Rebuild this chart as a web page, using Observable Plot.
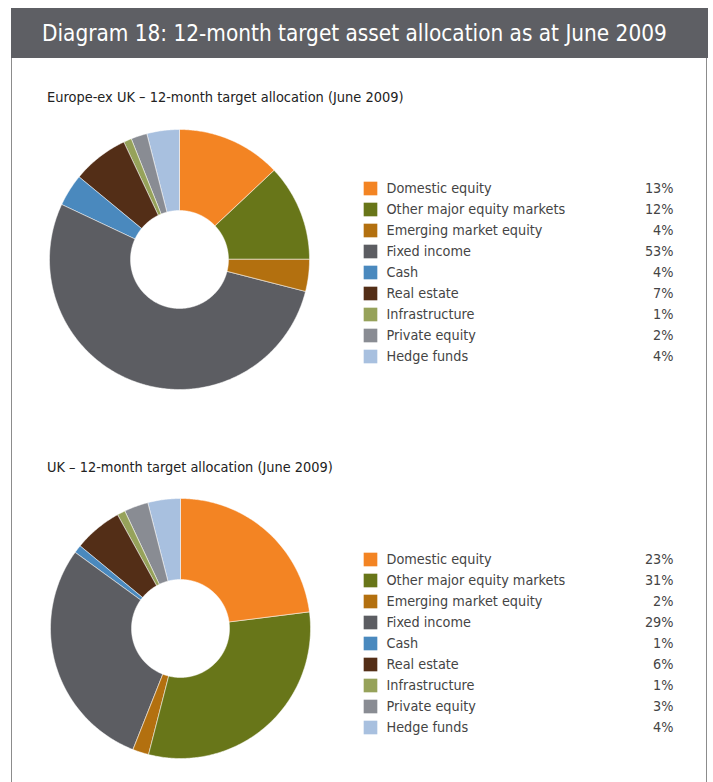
<!DOCTYPE html>
<html>
<head>
<meta charset="utf-8">
<script src="https://cdn.jsdelivr.net/npm/d3@7"></script>
<script src="https://cdn.jsdelivr.net/npm/@observablehq/plot@0.6"></script>
<style>
  html, body { margin: 0; padding: 0; background: #fff; }
  body { width: 713px; height: 782px; position: relative; overflow: hidden;
         font-family: "Liberation Sans Narrow", "DejaVu Sans Condensed", "Open Sans", sans-serif; }
  .frame { position: absolute; left: 11px; top: 8px; width: 694px; height: 820px;
           border-left: 1px solid #8c8c8c; border-right: 1px solid #8c8c8c; }
  .header { position: absolute; left: 11px; top: 8px; width: 697px; height: 50px; background: #5e5f64; }
  .title { position: absolute; left: 42px; top: 33px; transform: translateY(-50%);
           color: #fff; font-size: 25px; white-space: nowrap; line-height: 1; }
  .sub { position: absolute; left: 47px; color: #222; font-size: 16px; white-space: nowrap;
         transform: translateY(-50%); line-height: 1; }
  .pie, .legend { position: absolute; }
  .legend text { font-family: "Liberation Sans Narrow", "DejaVu Sans Condensed", "Open Sans", sans-serif; }
</style>
</head>
<body>
<div class="frame"></div>
<div class="header"></div>
<div class="title" id="title">Diagram 18: 12-month target asset allocation as at June 2009</div>
<div class="sub" id="sub1" style="top:97px">Europe-ex UK – 12-month target allocation (June 2009)</div>
<div class="sub" id="sub2" style="top:467px">UK – 12-month target allocation (June 2009)</div>
<div class="pie" id="pie1" style="left:48px; top:128px"></div>
<div class="legend" id="leg1" style="left:350px; top:170px"></div>
<div class="pie" id="pie2" style="left:49px; top:497px"></div>
<div class="legend" id="leg2" style="left:350px; top:541px"></div>
<script>
const categories = ["Domestic equity", "Other major equity markets", "Emerging market equity", "Fixed income", "Cash", "Real estate", "Infrastructure", "Private equity", "Hedge funds"];
const colors = ["#F38423", "#687619", "#B3700F", "#5C5D62", "#4A89BE", "#532E17", "#96A25A", "#898C93", "#A8C0DF"];
const europeValues = [13, 12, 4, 53, 4, 7, 1, 2, 4];
const ukValues = [23, 31, 2, 29, 1, 6, 1, 3, 4];

const innerRatio = 49 / 130;

function donutPoints(values) {
  const arcs = d3.pie().sort(null).value(d => d)(values);
  const pts = [];
  arcs.forEach((a, i) => {
    const n = Math.max(4, Math.ceil((a.endAngle - a.startAngle) / 0.01));
    for (let k = 0; k <= n; k++) {
      const t = a.startAngle + (a.endAngle - a.startAngle) * k / n;
      pts.push({cat: categories[i], x: Math.sin(t), y: Math.cos(t)});
    }
    for (let k = n; k >= 0; k--) {
      const t = a.startAngle + (a.endAngle - a.startAngle) * k / n;
      pts.push({cat: categories[i], x: innerRatio * Math.sin(t), y: innerRatio * Math.cos(t)});
    }
  });
  return pts;
}

function donut(values) {
  return Plot.plot({
    width: 262, height: 262, margin: 1,
    x: {domain: [-1, 1], axis: null},
    y: {domain: [-1, 1], axis: null},
    color: {domain: categories, range: colors},
    marks: [
      Plot.line(donutPoints(values), {x: "x", y: "y", z: "cat", fill: "cat", stroke: "#ffffff", strokeWidth: 0.5, curve: "linear-closed"})
    ]
  });
}

function legend(values) {
  const rows = categories.map((c, i) => ({cat: c, value: values[i]}));
  return Plot.plot({
    width: 340, height: 205, margin: 0,
    style: {fontSize: "14.3px", color: "#444", background: "transparent"},
    y: {type: "point", domain: categories, range: [16, 16 + 8 * 21.4], padding: 0, axis: null},
    color: {domain: categories, range: colors},
    marks: [
      Plot.dot(rows, {y: "cat", fill: "cat", symbol: "square", r: 7.7, frameAnchor: "left", dx: 20}),
      Plot.text(rows, {y: "cat", text: "cat", frameAnchor: "left", dx: 36, textAnchor: "start", fill: "#444"}),
      Plot.text(rows, {y: "cat", text: d => d.value + "%", frameAnchor: "right", dx: -17, textAnchor: "end", fill: "#444"})
    ]
  });
}

document.getElementById("pie1").appendChild(donut(europeValues));
document.getElementById("leg1").appendChild(legend(europeValues));
document.getElementById("pie2").appendChild(donut(ukValues));
document.getElementById("leg2").appendChild(legend(ukValues));

// fit header texts to the widths measured on the reference
function fit(id, target) {
  const el = document.getElementById(id);
  const w = el.getBoundingClientRect().width;
  const fs = parseFloat(getComputedStyle(el).fontSize);
  el.style.fontSize = (fs * target / w) + "px";
}
fit("title", 625);
fit("sub1", 357);
fit("sub2", 286);
</script>
</body>
</html>
